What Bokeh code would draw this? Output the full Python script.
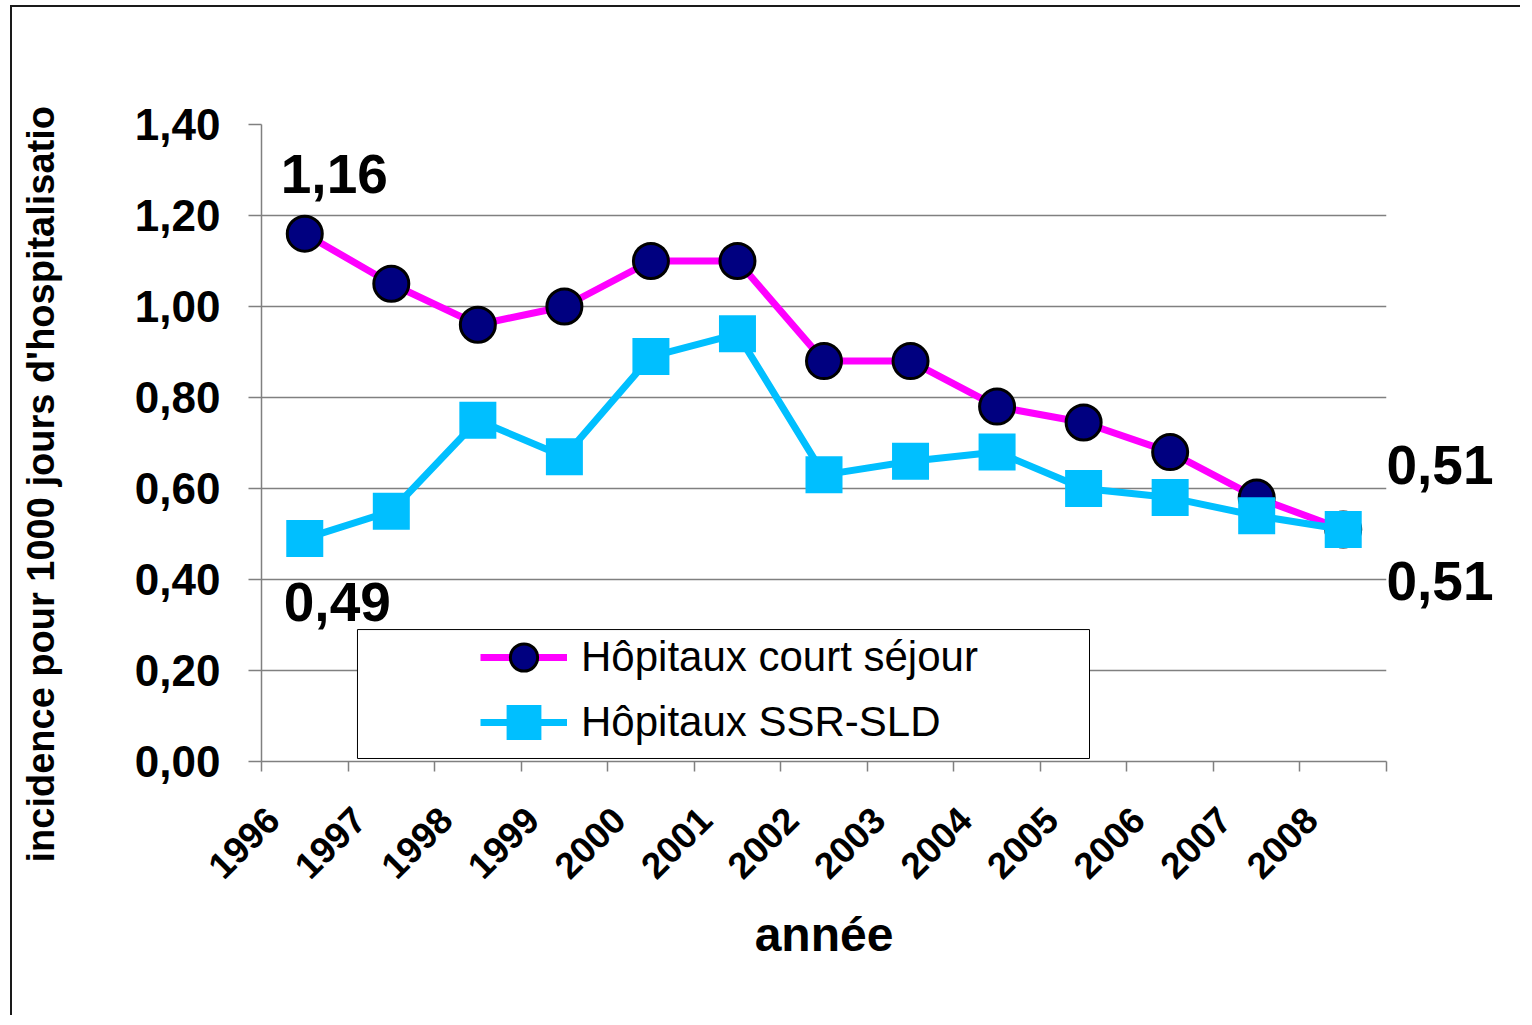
import math
from bokeh.plotting import figure
from bokeh.models import (Range1d, FixedTicker, Label, BoxAnnotation, Legend, LegendItem,
                          LinearAxis, Title)
from bokeh.embed import file_html
from bokeh.resources import INLINE

# ---------------- data ----------------
years = ["1996", "1997", "1998", "1999", "2000", "2001", "2002",
         "2003", "2004", "2005", "2006", "2007", "2008"]
court_sejour = [1.16, 1.05, 0.96, 1.00, 1.10, 1.10, 0.88, 0.88, 0.78, 0.745, 0.68, 0.58, 0.51]
ssr_sld = [0.49, 0.55, 0.75, 0.67, 0.89, 0.94, 0.63, 0.66, 0.68, 0.60, 0.58, 0.54, 0.51]
y_tick_values = [0.0, 0.2, 0.4, 0.6, 0.8, 1.0, 1.2, 1.4]
y_tick_labels = ["0,00", "0,20", "0,40", "0,60", "0,80", "1,00", "1,20", "1,40"]
legend_labels = ["Hôpitaux court séjour", "Hôpitaux SSR-SLD"]
x_title = "année"
y_title = "incidence pour 1000 jours d'hospitalisatio"

FONT = "Liberation Sans"
GRAY = "#808080"

def fr(v):
    return f"{v:.2f}".replace(".", ",")

Y_MAX = 1.4
FRAME_H = 637
PX = FRAME_H / Y_MAX  # pixels per unit

x = [i + 0.5 for i in range(len(years))]
label_ticks = [i + 0.13 for i in range(len(years))]
boundaries = list(range(len(years) + 1))

p = figure(width=1510, height=1010, output_backend="svg", toolbar_location=None,
           x_range=Range1d(0, len(years)), y_range=Range1d(0, Y_MAX),
           min_border_left=249, min_border_right=136,
           min_border_top=117, min_border_bottom=256)
p.styles = {"border-left": "2px solid #1a1a1a", "border-top": "2px solid #1a1a1a",
            "margin-left": "10px", "margin-top": "5px"}
p.outline_line_color = None
p.background_fill_color = "white"
p.border_fill_color = "white"

# grid
p.xgrid.visible = False
p.ygrid.grid_line_color = GRAY
p.ygrid.grid_line_width = 1.5

# left y axis
yax = p.yaxis[0]
yax.ticker = FixedTicker(ticks=y_tick_values)
yax.major_label_overrides = dict(zip(y_tick_values, y_tick_labels))
yax.axis_line_color = GRAY
yax.axis_line_width = 1.5
yax.major_tick_line_color = GRAY
yax.major_tick_line_width = 1.5
yax.major_tick_out = 13
yax.major_tick_in = 0
yax.minor_tick_line_color = None
yax.major_label_standoff = 28
yax.major_label_text_font = FONT
yax.major_label_text_font_size = "44px"
yax.major_label_text_font_style = "bold"
yax.major_label_text_color = "black"
# blank spacer label: keeps the y title away from the tick labels
yax.axis_label = " "
yax.axis_label_text_font_size = "10px"
yax.axis_label_standoff = 56

# x axis
xax = p.xaxis[0]
xax.ticker = FixedTicker(ticks=label_ticks, minor_ticks=boundaries)
xax.major_label_overrides = dict(zip(label_ticks, years))
xax.axis_line_color = GRAY
xax.axis_line_width = 1.5
xax.major_tick_line_color = None
xax.major_tick_out = 0
xax.major_tick_in = 0
xax.minor_tick_line_color = GRAY
xax.minor_tick_line_width = 1.5
xax.minor_tick_out = 10
xax.minor_tick_in = 0
xax.major_label_orientation = math.pi / 4
xax.major_label_standoff = 42
xax.major_label_text_font = FONT
xax.major_label_text_font_size = "37px"
xax.major_label_text_font_style = "bold"
xax.major_label_text_color = "black"
xax.axis_label = x_title
xax.axis_label_standoff = 15
xax.axis_label_text_font = FONT
xax.axis_label_text_font_size = "48px"
xax.axis_label_text_font_style = "bold"
xax.axis_label_text_color = "black"

# series
l1 = p.line(x, court_sejour, line_color="#FF00FF", line_width=7)
m1 = p.scatter(x, court_sejour, marker="circle", size=35,
               fill_color="#000080", line_color="black", line_width=3)
l2 = p.line(x, ssr_sld, line_color="#00BFFF", line_width=7)
m2 = p.scatter(x, ssr_sld, marker="square", size=37,
               fill_color="#00BFFF", line_color="#00BFFF", line_width=0)

# legend box + legends
box = BoxAnnotation(left=1.109, right=9.568, bottom=0.0066, top=0.290,
                    fill_color="white", fill_alpha=1.0,
                    line_color="black", line_width=1, line_alpha=1.0)
p.add_layout(box)

leg_kw = dict(padding=0, margin=0, spacing=0, glyph_width=87, label_standoff=14,
              border_line_color=None, background_fill_alpha=0,
              label_text_font=FONT, label_text_font_size="42px",
              label_text_color="black")
legend1 = Legend(items=[LegendItem(label=legend_labels[0], renderers=[l1, m1])],
                 location=(219, 70), glyph_height=68, **leg_kw)
legend2 = Legend(items=[LegendItem(label=legend_labels[1], renderers=[l2, m2])],
                 location=(219, -7), glyph_height=92, **leg_kw)
p.add_layout(legend1)
p.add_layout(legend2)

# value annotations inside the frame
lab_kw = dict(text_font=FONT, text_font_size="55px", text_font_style="bold",
              text_color="black", text_align="left", text_baseline="middle")
p.add_layout(Label(x=x[0], y=court_sejour[0], x_offset=-24, y_offset=60,
                   text=fr(court_sejour[0]), **lab_kw))
p.add_layout(Label(x=x[0], y=ssr_sld[0], x_offset=-21, y_offset=-63,
                   text=fr(ssr_sld[0]), **lab_kw))

# value annotations at the right end (drawn as right-side axis labels)
t_up = court_sejour[-1] + 64 / PX
t_lo = ssr_sld[-1] - 52 / PX
rax = LinearAxis(ticker=FixedTicker(ticks=[t_up, t_lo]),
                 major_label_overrides={t_up: fr(court_sejour[-1]), t_lo: fr(ssr_sld[-1])},
                 axis_line_color=None, major_tick_line_color=None,
                 minor_tick_line_color=None, major_tick_out=0, major_tick_in=0,
                 major_label_standoff=0, major_label_text_font=FONT,
                 major_label_text_font_size="55px", major_label_text_font_style="bold",
                 major_label_text_color="black")
p.add_layout(rax, "right")

# y title
p.add_layout(Title(text=y_title, align="left", offset=-101, standoff=0,
                   text_font=FONT, text_font_size="38px", text_font_style="bold",
                   text_color="black"), "left")

open("out.html", "w").write(file_html(p, INLINE))
